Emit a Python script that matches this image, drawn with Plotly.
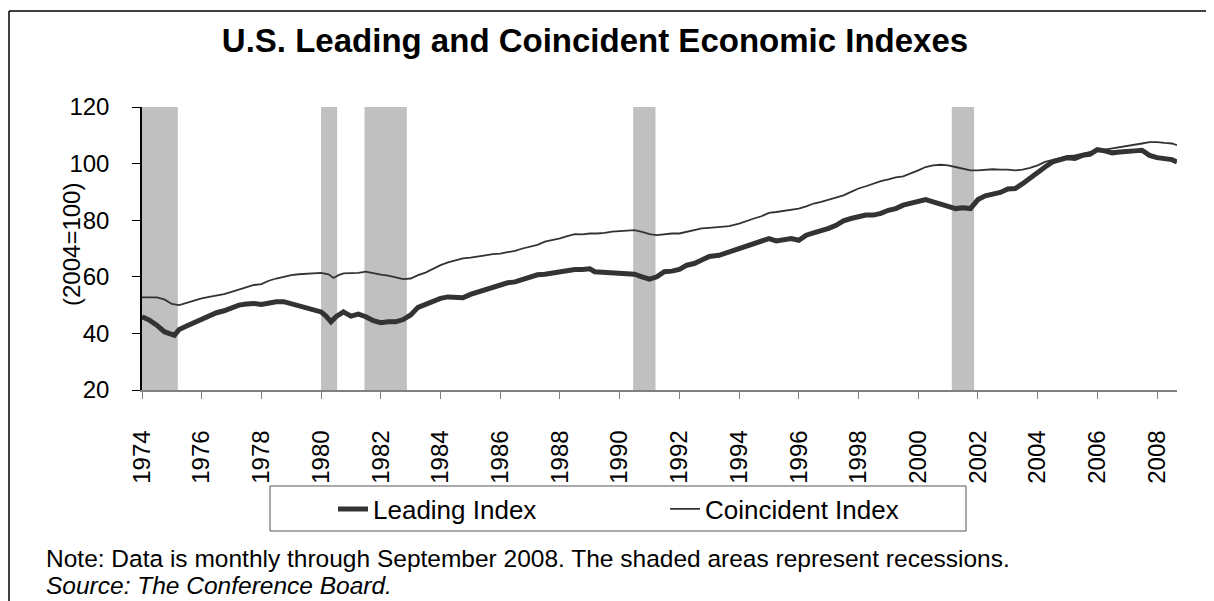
import plotly.graph_objects as go


# =====================================================
# DATA (2004=100)
# =====================================================

leading_dates = [
    "1974-01", "1974-04", "1974-07", "1974-10", "1975-02", "1975-04", "1975-07", "1975-10",
    "1976-01", "1976-04", "1976-07", "1976-10", "1977-01", "1977-04", "1977-07", "1977-10",
    "1978-01", "1978-04", "1978-07", "1978-10", "1979-01", "1979-04", "1979-07", "1979-10",
    "1980-01", "1980-03", "1980-05", "1980-07", "1980-10", "1980-11", "1981-01", "1981-04",
    "1981-07", "1981-10", "1982-01", "1982-04", "1982-07", "1982-10", "1983-01", "1983-04",
    "1983-07", "1983-10", "1984-01", "1984-04", "1984-07", "1984-10", "1985-01", "1985-04",
    "1985-07", "1985-10", "1986-01", "1986-04", "1986-07", "1986-10", "1987-01", "1987-04",
    "1987-07", "1987-10", "1988-01", "1988-04", "1988-07", "1988-10", "1989-01", "1989-03",
    "1989-07", "1989-10", "1990-01", "1990-04", "1990-07", "1990-10", "1991-01", "1991-04",
    "1991-07", "1991-10", "1992-01", "1992-04", "1992-07", "1992-10", "1993-01", "1993-05",
    "1993-09", "1994-01", "1994-04", "1994-07", "1994-10", "1995-01", "1995-04", "1995-07",
    "1995-10", "1996-01", "1996-04", "1996-07", "1996-10", "1997-01", "1997-04", "1997-07",
    "1997-10", "1998-01", "1998-04", "1998-07", "1998-10", "1999-01", "1999-04", "1999-07",
    "1999-10", "2000-01", "2000-04", "2000-07", "2000-10", "2001-01", "2001-04", "2001-07",
    "2001-10", "2002-01", "2002-04", "2002-07", "2002-10", "2003-01", "2003-04", "2003-07",
    "2003-10", "2004-01", "2004-04", "2004-07", "2004-10", "2005-01", "2005-04", "2005-07",
    "2005-10", "2006-01", "2006-04", "2006-07", "2006-10", "2007-01", "2007-04", "2007-07",
    "2007-10", "2008-01", "2008-04", "2008-07", "2008-09",
]

leading_values = [
    45.9, 44.7, 42.9, 40.6, 39.3, 41.4, 42.6, 43.8,
    45.3, 46.5, 47.3, 48.0, 49.2, 50.0, 50.4, 50.6,
    50.2, 50.8, 51.2, 51.2, 50.4, 49.6, 49.2, 48.2,
    47.6, 46.1, 44.1, 45.9, 47.6, 47.1, 46.1, 46.8,
    45.9, 44.5, 43.8, 44.1, 44.1, 44.9, 46.5, 49.2,
    50.4, 51.2, 52.4, 52.9, 52.9, 52.6, 53.8, 54.7,
    55.5, 56.2, 57.1, 57.9, 58.2, 59.1, 60.0, 60.7,
    60.9, 61.4, 61.8, 62.4, 62.6, 62.6, 62.8, 61.8,
    61.6, 61.6, 61.4, 61.2, 60.9, 60.0, 59.2, 60.0,
    61.8, 62.0, 62.6, 64.1, 64.7, 65.9, 67.2, 67.6,
    68.8, 70.0, 71.2, 71.8, 72.9, 73.5, 72.7, 72.9,
    73.5, 72.9, 74.7, 75.5, 76.1, 77.1, 78.2, 79.8,
    80.6, 81.4, 81.8, 81.8, 82.4, 83.5, 84.1, 85.3,
    85.9, 86.8, 87.3, 86.5, 85.9, 84.9, 84.1, 84.4,
    84.1, 87.3, 88.6, 89.3, 89.8, 91.0, 91.2, 92.9,
    94.7, 96.7, 98.8, 100.6, 101.2, 102.1, 101.8, 102.9,
    103.3, 104.9, 104.5, 103.8, 104.1, 104.1, 104.5, 104.7,
    102.9, 102.1, 101.8, 101.4, 100.6,
]

coincident_dates = [
    "1974-01", "1974-04", "1974-07", "1974-10", "1975-01", "1975-04", "1975-07", "1975-10",
    "1976-01", "1976-04", "1976-07", "1976-10", "1977-01", "1977-04", "1977-07", "1977-10",
    "1978-01", "1978-04", "1978-07", "1978-10", "1979-01", "1979-04", "1979-07", "1979-10",
    "1980-01", "1980-04", "1980-06", "1980-08", "1980-10", "1981-01", "1981-04", "1981-07",
    "1981-10", "1982-01", "1982-04", "1982-07", "1982-10", "1983-01", "1983-04", "1983-07",
    "1983-10", "1984-01", "1984-04", "1984-07", "1984-10", "1985-01", "1985-04", "1985-07",
    "1985-10", "1986-01", "1986-04", "1986-07", "1986-10", "1987-01", "1987-04", "1987-07",
    "1987-10", "1988-01", "1988-04", "1988-07", "1988-10", "1989-01", "1989-04", "1989-07",
    "1989-10", "1990-01", "1990-04", "1990-07", "1990-10", "1991-01", "1991-04", "1991-07",
    "1991-10", "1992-01", "1992-04", "1992-07", "1992-10", "1993-01", "1993-05", "1993-09",
    "1994-01", "1994-04", "1994-07", "1994-10", "1995-01", "1995-04", "1995-07", "1995-10",
    "1996-01", "1996-04", "1996-07", "1996-10", "1997-01", "1997-04", "1997-07", "1997-10",
    "1998-01", "1998-04", "1998-07", "1998-10", "1999-01", "1999-04", "1999-07", "1999-10",
    "2000-01", "2000-04", "2000-07", "2000-10", "2001-01", "2001-04", "2001-07", "2001-10",
    "2002-01", "2002-04", "2002-07", "2002-10", "2003-01", "2003-04", "2003-07", "2003-10",
    "2004-01", "2004-04", "2004-07", "2004-10", "2005-01", "2005-04", "2005-07", "2005-10",
    "2006-01", "2006-04", "2006-07", "2006-10", "2007-01", "2007-04", "2007-07", "2007-10",
    "2008-01", "2008-04", "2008-07", "2008-09",
]

coincident_values = [
    52.7, 52.7, 52.7, 52.0, 50.4, 50.0, 50.8, 51.4,
    52.4, 52.9, 53.3, 53.9, 54.7, 55.5, 56.2, 57.1,
    57.4, 58.6, 59.4, 60.0, 60.6, 60.9, 61.1, 61.2,
    61.4, 60.9, 59.6, 60.6, 61.2, 61.3, 61.4, 61.8,
    61.2, 60.8, 60.4, 59.8, 59.2, 59.4, 60.6, 61.5,
    62.9, 64.1, 65.1, 65.9, 66.5, 66.8, 67.3, 67.6,
    68.0, 68.2, 68.7, 69.2, 70.0, 70.6, 71.3, 72.4,
    72.9, 73.6, 74.4, 75.1, 75.0, 75.3, 75.3, 75.5,
    76.0, 76.2, 76.5, 76.5, 75.9, 75.1, 74.7, 75.1,
    75.3, 75.3, 75.9, 76.5, 77.1, 77.3, 77.6, 77.9,
    78.8, 79.8, 80.6, 81.4, 82.6, 82.9, 83.3, 83.8,
    84.1, 84.9, 85.9, 86.5, 87.3, 88.0, 88.8, 90.0,
    91.2, 92.0, 92.9, 93.8, 94.4, 95.1, 95.5, 96.5,
    97.6, 98.8, 99.4, 99.6, 99.4, 98.8, 98.2, 97.6,
    97.6, 97.9, 98.0, 97.9, 97.9, 97.6, 97.9, 98.5,
    99.4, 100.6, 101.2, 101.8, 102.6, 102.9, 103.5, 104.1,
    104.7, 104.9, 105.3, 105.9, 106.1, 106.5, 107.1, 107.6,
    107.6, 107.3, 107.1, 106.5,
]

recession_starts = ["1974-01-01", "1980-01-01", "1981-06-15", "1990-06-15", "2001-02-15"]
recession_ends = ["1975-03-15", "1980-07-15", "1982-11-15", "1991-03-15", "2001-11-15"]


# =====================================================
# HELPERS
# page pixels; the html body adds an 8px offset
# plot area on the page is 142..1177 x 107..390
# =====================================================

OFF = 8
W, H = 1214 - OFF, 601 - OFF
PL, PR, PT, PB = 142, 1177, 107, 390


def px_x(x):
    return (x - PL) / (PR - PL)


def px_y(y):
    return (PB - y) / (PB - PT)


FONT = "Arial, Liberation Sans, sans-serif"


# =====================================================
# FIGURE
# =====================================================

fig = go.Figure()

fig.add_trace(go.Scatter(
    x=leading_dates,
    y=leading_values,
    mode="lines",
    name="Leading Index",
    line=dict(color="#333333", width=5)
))

fig.add_trace(go.Scatter(
    x=coincident_dates,
    y=coincident_values,
    mode="lines",
    name="Coincident Index",
    line=dict(color="#333333", width=1.8)
))

shapes = []

for start, end in zip(recession_starts, recession_ends):
    shapes.append(dict(
        type="rect", xref="x", yref="paper",
        x0=start, x1=end, y0=0, y1=1,
        fillcolor="#C0C0C0", line=dict(width=0), layer="below"
    ))

# outer frame (top and left edges visible)
shapes.append(dict(
    type="line", xref="paper", yref="paper",
    x0=px_x(9), x1=px_x(1214), y0=px_y(11), y1=px_y(11),
    line=dict(color="black", width=1.5)
))
shapes.append(dict(
    type="line", xref="paper", yref="paper",
    x0=px_x(9), x1=px_x(9), y0=px_y(11), y1=px_y(601),
    line=dict(color="black", width=1.5)
))

# legend box
shapes.append(dict(
    type="rect", xref="paper", yref="paper",
    x0=px_x(270), x1=px_x(966), y0=px_y(486), y1=px_y(531),
    line=dict(color="#555555", width=1)
))

fig.update_layout(

    width=W,

    height=H,

    margin=dict(l=PL - OFF, r=W - (PR - OFF), t=PT - OFF, b=H - (PB - OFF)),

    paper_bgcolor="white",

    plot_bgcolor="white",

    font=dict(family=FONT, color="black", size=24),

    title=dict(
        text="<b>U.S. Leading and Coincident Economic Indexes</b>",
        x=(595 - OFF) / W, xanchor="center",
        y=1 - (40 - OFF) / H, yanchor="middle",
        font=dict(family=FONT, size=33, color="black")
    ),

    showlegend=True,

    legend=dict(
        orientation="h",
        x=px_x(333), xanchor="left",
        y=px_y(509), yanchor="middle",
        bgcolor="rgba(0,0,0,0)",
        borderwidth=0,
        entrywidth=287,
        entrywidthmode="pixels",
        font=dict(family=FONT, size=26, color="black")
    ),

    shapes=shapes,

    annotations=[
        dict(
            text="(2004=100)", textangle=-90,
            xref="paper", yref="paper",
            x=px_x(71), y=px_y(245),
            xanchor="center", yanchor="middle",
            showarrow=False, font=dict(size=24)
        ),
        dict(
            text="Note: Data is monthly through September 2008. The shaded areas represent recessions.",
            xref="paper", yref="paper",
            x=px_x(44), y=px_y(558),
            xanchor="left", yanchor="middle",
            showarrow=False, font=dict(size=24.5)
        ),
        dict(
            text="<i>Source: The Conference Board.</i>",
            xref="paper", yref="paper",
            x=px_x(44), y=px_y(585),
            xanchor="left", yanchor="middle",
            showarrow=False, font=dict(size=24.5)
        ),
    ]

)

fig.update_xaxes(

    type="date",

    range=["1974-01-01", "2008-09-01"],

    tick0="1974-01-01",

    dtick="M24",

    tickformat="%Y",

    tickangle=-90,

    ticks="outside",

    ticklen=7,

    tickcolor="#808080",

    ticklabelstandoff=22,

    showline=True,

    linecolor="#808080",

    linewidth=1.5,

    showgrid=False,

    zeroline=False,

    tickfont=dict(size=24)

)

fig.update_yaxes(

    range=[20, 120],

    tick0=20,

    dtick=20,

    ticks="outside",

    ticklen=8,

    tickcolor="black",

    ticklabelstandoff=18,

    showline=True,

    linecolor="black",

    linewidth=1.5,

    showgrid=False,

    zeroline=False,

    tickfont=dict(size=24)

)

fig.write_html("out.html")
